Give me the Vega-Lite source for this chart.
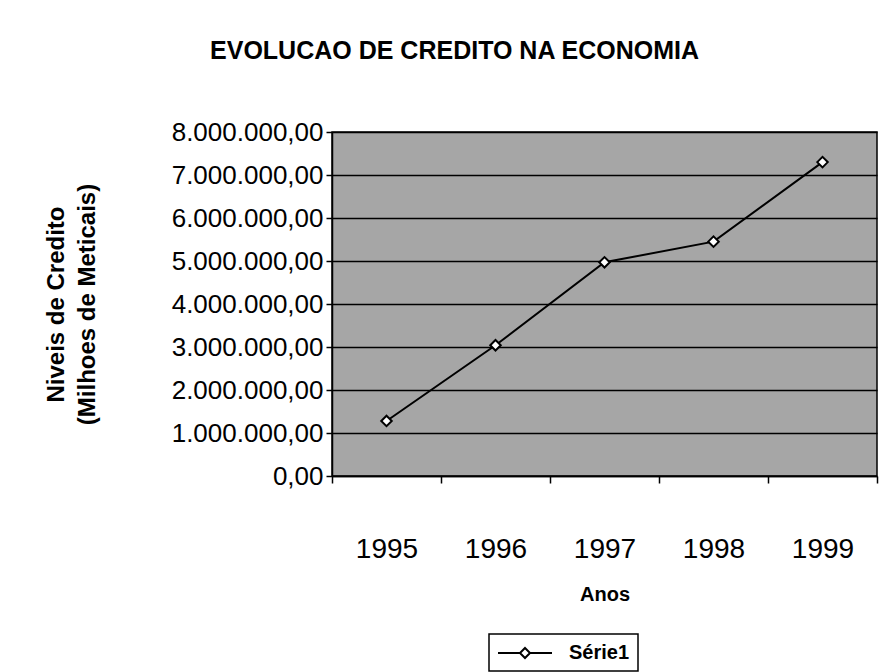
{
  "$schema": "https://vega.github.io/schema/vega-lite/v6.json",
  "autosize": "none",
  "width": 545,
  "height": 344,
  "padding": {"left": 332, "top": 132, "right": 17, "bottom": 196},
  "background": "white",
  "config": {
    "locale": {"number": {"decimal": ",", "thousands": ".", "grouping": [3], "currency": ["", ""]}},
    "font": "Liberation Sans",
    "view": {"fill": "#a6a6a6", "stroke": "black", "strokeWidth": 1.5}
  },
  "title": {
    "text": "EVOLUCAO DE CREDITO NA ECONOMIA",
    "anchor": "middle",
    "dx": -150,
    "fontSize": 25,
    "fontWeight": "bold",
    "color": "black",
    "font": "Liberation Sans",
    "baseline": "alphabetic",
    "offset": 35
  },
  "data": {
    "values": [
      {"ano": "1995", "credito": 1280000, "serie": "Série1"},
      {"ano": "1996", "credito": 3040000, "serie": "Série1"},
      {"ano": "1997", "credito": 4970000, "serie": "Série1"},
      {"ano": "1998", "credito": 5450000, "serie": "Série1"},
      {"ano": "1999", "credito": 7300000, "serie": "Série1"}
    ]
  },
  "encoding": {
    "x": {
      "field": "ano",
      "type": "ordinal",
      "scale": {"type": "band", "paddingInner": 0, "paddingOuter": 0},
      "axis": {
        "title": "Anos",
        "labelAngle": 0,
        "tickBand": "extent",
        "grid": false,
        "domainColor": "black",
        "domainWidth": 1.5,
        "tickColor": "black",
        "tickWidth": 1.5,
        "tickSize": 7,
        "labelFontSize": 28,
        "labelColor": "black",
        "labelPadding": 52,
        "titleFontSize": 20,
        "titleFontWeight": "bold",
        "titleColor": "black",
        "titleBaseline": "alphabetic",
        "titleY": 124
      }
    },
    "y": {
      "field": "credito",
      "type": "quantitative",
      "scale": {"domain": [0, 8000000], "nice": false},
      "axis": {
        "values": [0, 1000000, 2000000, 3000000, 4000000, 5000000, 6000000, 7000000, 8000000],
        "format": ",.2f",
        "grid": true,
        "gridColor": "black",
        "gridWidth": 1.5,
        "gridOpacity": 1,
        "domainColor": "black",
        "domainWidth": 1.5,
        "tickColor": "black",
        "tickWidth": 1.5,
        "tickSize": 6,
        "labelFontSize": 26,
        "labelColor": "black",
        "labelPadding": 3,
        "title": ["Niveis de Credito", "(Milhoes de Meticais)"],
        "titleFontSize": 24,
        "titleFontWeight": "bold",
        "titleColor": "black",
        "titleAngle": -90,
        "titleAlign": "center",
        "titleBaseline": "top",
        "titleX": -288,
        "titleY": 172,
        "titleLineHeight": 31
      }
    }
  },
  "layer": [
    {
      "mark": {"type": "line", "strokeWidth": 2},
      "encoding": {
        "color": {
          "field": "serie",
          "type": "nominal",
          "scale": {"range": ["black"]},
          "legend": {
            "title": null,
            "orient": "none",
            "legendX": 157,
            "legendY": 502,
            "strokeColor": "black",
            "fillColor": "white",
            "padding": 8,
            "symbolType": "M-2.7,0H-0.5M0.5,0H2.7M0,-0.5L0.5,0L0,0.5L-0.5,0Z",
            "symbolSize": 400,
            "symbolOffset": 17,
            "symbolStrokeWidth": 2,
            "labelFontSize": 20,
            "labelFontWeight": "bold",
            "labelColor": "black",
            "labelOffset": 33,
            "encode": {
              "legend": {"update": {"strokeWidth": {"value": 1.5}}},
              "symbols": {"update": {"fill": {"value": "white"}, "stroke": {"value": "black"}, "strokeWidth": {"value": 2}}}
            }
          }
        }
      }
    },
    {
      "mark": {"type": "point", "shape": "diamond", "filled": true, "fill": "white", "stroke": "black", "strokeWidth": 2, "size": 110, "opacity": 1}
    }
  ]
}
